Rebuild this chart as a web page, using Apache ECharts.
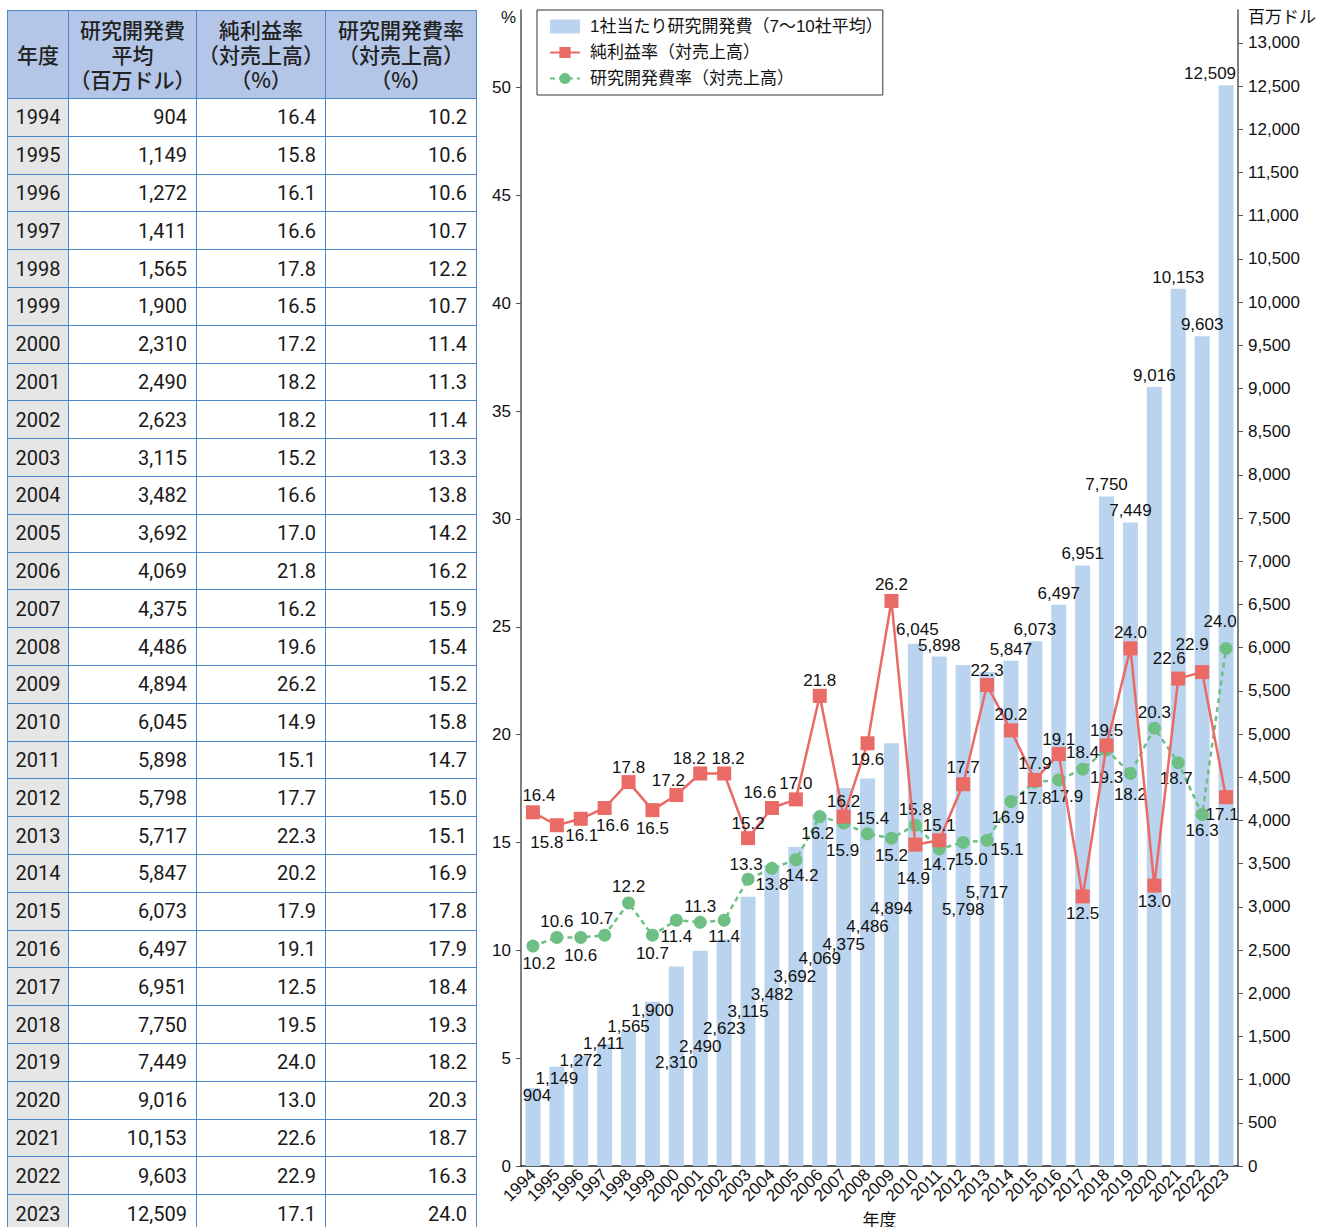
<!DOCTYPE html>
<html>
<head>
<meta charset="utf-8">
<script src="https://cdn.jsdelivr.net/npm/echarts@6/dist/echarts.min.js"></script>
<style>
  html, body { margin: 0; padding: 0; width: 1326px; height: 1227px; overflow: hidden; background: #fff; }
  #chart { position: absolute; left: 0; top: 0; width: 1326px; height: 1227px; }
  #tbl { position: absolute; left: 7px; top: 10px; border-collapse: collapse; table-layout: fixed;
         font-family: Roboto, "Liberation Sans", "Noto Sans CJK JP", sans-serif; color: #1a1a1a; z-index: 2; }
  #tbl th, #tbl td { border: 1.5px solid #4a86c8; padding: 0; }
  #tbl th { background: #b4c6e7; font-family: "Noto Sans CJK JP", sans-serif; font-weight: 500;
            font-size: 21px; height: 87px; text-align: center; color: #222; }
  #tbl th div { height: 25px; line-height: 25px; overflow: visible; white-space: nowrap; }
  #tbl td { height: 36.8px; font-size: 20px; text-align: right; padding-right: 9px; }
  #tbl td.yr { background: #e6e6e6; text-align: center; padding-right: 0; }
</style>
</head>
<body>
<div id="chart"></div>
<table id="tbl"></table>
<script>
// ---- data ----
const years = ['1994','1995','1996','1997','1998','1999','2000','2001','2002','2003','2004','2005','2006','2007','2008','2009','2010','2011','2012','2013','2014','2015','2016','2017','2018','2019','2020','2021','2022','2023'];
const rdSpend = [904,1149,1272,1411,1565,1900,2310,2490,2623,3115,3482,3692,4069,4375,4486,4894,6045,5898,5798,5717,5847,6073,6497,6951,7750,7449,9016,10153,9603,12509];
const netMargin = [16.4,15.8,16.1,16.6,17.8,16.5,17.2,18.2,18.2,15.2,16.6,17.0,21.8,16.2,19.6,26.2,14.9,15.1,17.7,22.3,20.2,17.9,19.1,12.5,19.5,24.0,13.0,22.6,22.9,17.1];
const rdRatio = [10.2,10.6,10.6,10.7,12.2,10.7,11.4,11.3,11.4,13.3,13.8,14.2,16.2,15.9,15.4,15.2,15.8,14.7,15.0,15.1,16.9,17.8,17.9,18.4,19.3,18.2,20.3,18.7,16.3,24.0];
const leftTicks = [0,5,10,15,20,25,30,35,40,45,50];
const rightTicks = [0,500,1000,1500,2000,2500,3000,3500,4000,4500,5000,5500,6000,6500,7000,7500,8000,8500,9000,9500,10000,10500,11000,11500,12000,12500,13000];
const seriesNames = ['1社当たり研究開発費（7〜10社平均）','純利益率（対売上高）','研究開発費率（対売上高）'];
const tableHeaders = [['年度'],['研究開発費','平均','（百万ドル）'],['純利益率','（対売上高）','（%）'],['研究開発費率','（対売上高）','（%）']];

// ---- label layout (pixel nudges for data labels) ----
const barLabelShift = [[4,19],[0,23],[0,16],[-1,11],[0,7],[0,20],[0,108],[0,107],[0,101],[0,126],[0,141],[-1,141],[0,156],[0,168],[0,160],[0,177],[2,-3],[0,1],[0,256],[0,232],[0,0],[0,0],[0,0],[0,0],[0,0],[0,0],[0,0],[0,0],[0,0],[-16,0]];
const redLabelShift = [[6,-17],[-10,17],[1,17],[8,18],[0,-15],[0,18],[-8,-15],[-11,-15],[4,-15],[0,-15],[-12,-15],[0,-16],[0,-15],[0,-15],[0,16],[0,-16],[-2,34],[0,-15],[0,-17],[0,-15],[0,-16],[0,-16],[0,-15],[0,17],[0,-15],[0,-16],[0,16],[-9,-20],[-10,-28],[-4,17]];
const greenLabelShift = [[6,17],[0,-16],[0,18],[-8,-17],[0,-16],[0,18],[0,16],[0,-16],[0,16],[-2,-15],[0,16],[6,16],[-2,17],[-1,27],[5,-15],[0,17],[0,-16],[0,16],[8,17],[20,9],[-3,16],[0,16],[8,17],[0,-17],[0,28],[0,21],[0,-16],[-2,16],[0,16],[-6,-27]];

// ---- table ----
const tbl = document.getElementById('tbl');
const colW = [61,128,129,151];
let html = '<colgroup>' + colW.map(w => '<col style="width:' + w + 'px">').join('') + '</colgroup>';
html += '<tr>' + tableHeaders.map(h => '<th>' + h.map(s => '<div>' + s + '</div>').join('') + '</th>').join('') + '</tr>';
years.forEach((y, i) => {
  html += '<tr><td class="yr">' + y + '</td><td>' + rdSpend[i].toLocaleString('en-US') +
          '</td><td>' + netMargin[i].toFixed(1) + '</td><td>' + rdRatio[i].toFixed(1) + '</td></tr>';
});
tbl.innerHTML = html;

// ---- chart ----
const chart = echarts.init(document.getElementById('chart'), null, { renderer: 'svg' });
const FONT = '"Liberation Sans", "Noto Sans CJK JP", sans-serif';
const txt = { fontFamily: FONT, fontSize: 17, color: '#111' };
const BLUE = '#bad4ef', RED = '#ea6a65', GREEN = '#6dbf84';

chart.setOption({
  animation: false,
  textStyle: { fontFamily: FONT },
  grid: { left: 521, right: 88, top: 10, bottom: 61, containLabel: false, outerBoundsMode: 'none' },
  legend: {
    orient: 'vertical', left: 537, top: 10,
    padding: [8, 0, 8, 12], itemGap: 9, itemWidth: 30, itemHeight: 14,
    borderColor: '#333', borderWidth: 1, backgroundColor: '#fff',
    textStyle: { fontFamily: FONT, fontSize: 17, color: '#111', padding: [0, 0, 0, 5] },
    data: [
      { name: seriesNames[0], icon: 'rect' },
      { name: seriesNames[1] },
      { name: seriesNames[2] }
    ]
  },
  xAxis: {
    type: 'category', data: years,
    name: '年度', nameLocation: 'middle', nameGap: 43,
    nameTextStyle: Object.assign({}, txt),
    axisLine: { lineStyle: { color: '#222', width: 1.5 } },
    axisTick: { show: false },
    axisLabel: Object.assign({ rotate: 45, margin: 6, interval: 0 }, txt)
  },
  yAxis: [
    {
      type: 'value', min: 0, max: 53.6, interval: 5, position: 'left',
      name: '%', nameLocation: 'end', nameGap: -16,
      nameTextStyle: Object.assign({ align: 'right', padding: [0, 5, 0, 0] }, txt),
      splitLine: { show: false },
      axisLine: { show: true, lineStyle: { color: '#555', width: 1.5 } },
      axisTick: { show: true, length: 5, customValues: leftTicks, lineStyle: { color: '#555' } },
      axisLabel: Object.assign({ margin: 10, customValues: leftTicks }, txt)
    },
    {
      type: 'value', min: 0, max: 13380, interval: 500, position: 'right',
      name: '百万ドル', nameLocation: 'end', nameGap: -16,
      nameTextStyle: Object.assign({ align: 'left', padding: [0, 0, 0, 10] }, txt),
      splitLine: { show: false },
      axisLine: { show: true, lineStyle: { color: '#555', width: 1.5 } },
      axisTick: { show: true, length: 5, customValues: rightTicks, lineStyle: { color: '#555' } },
      axisLabel: Object.assign({ margin: 10, customValues: rightTicks,
        formatter: v => Number(v).toLocaleString('en-US') }, txt)
    }
  ],
  series: [
    {
      name: seriesNames[0], type: 'bar', yAxisIndex: 1, barWidth: '63%',
      itemStyle: { color: BLUE },
      label: Object.assign({ show: true, position: 'top', distance: 3,
        formatter: p => Number(p.value).toLocaleString('en-US') }, txt),
      data: rdSpend.map((v, i) => ({ value: v, label: { offset: barLabelShift[i] } })),
      z: 1
    },
    {
      name: seriesNames[1], type: 'line', yAxisIndex: 0,
      symbol: 'rect', symbolSize: 14,
      lineStyle: { color: RED, width: 2.5 }, itemStyle: { color: RED },
      label: Object.assign({ show: true, position: 'inside',
        formatter: p => Number(p.value).toFixed(1) }, txt),
      data: netMargin.map((v, i) => ({ value: v, label: { offset: redLabelShift[i] } })),
      z: 4
    },
    {
      name: seriesNames[2], type: 'line', yAxisIndex: 0,
      symbol: 'circle', symbolSize: 13,
      lineStyle: { color: GREEN, width: 2.5, type: [5, 4] }, itemStyle: { color: GREEN },
      label: Object.assign({ show: true, position: 'inside',
        formatter: p => Number(p.value).toFixed(1) }, txt),
      data: rdRatio.map((v, i) => ({ value: v, label: { offset: greenLabelShift[i] } })),
      z: 3
    }
  ]
});
</script>
</body>
</html>
